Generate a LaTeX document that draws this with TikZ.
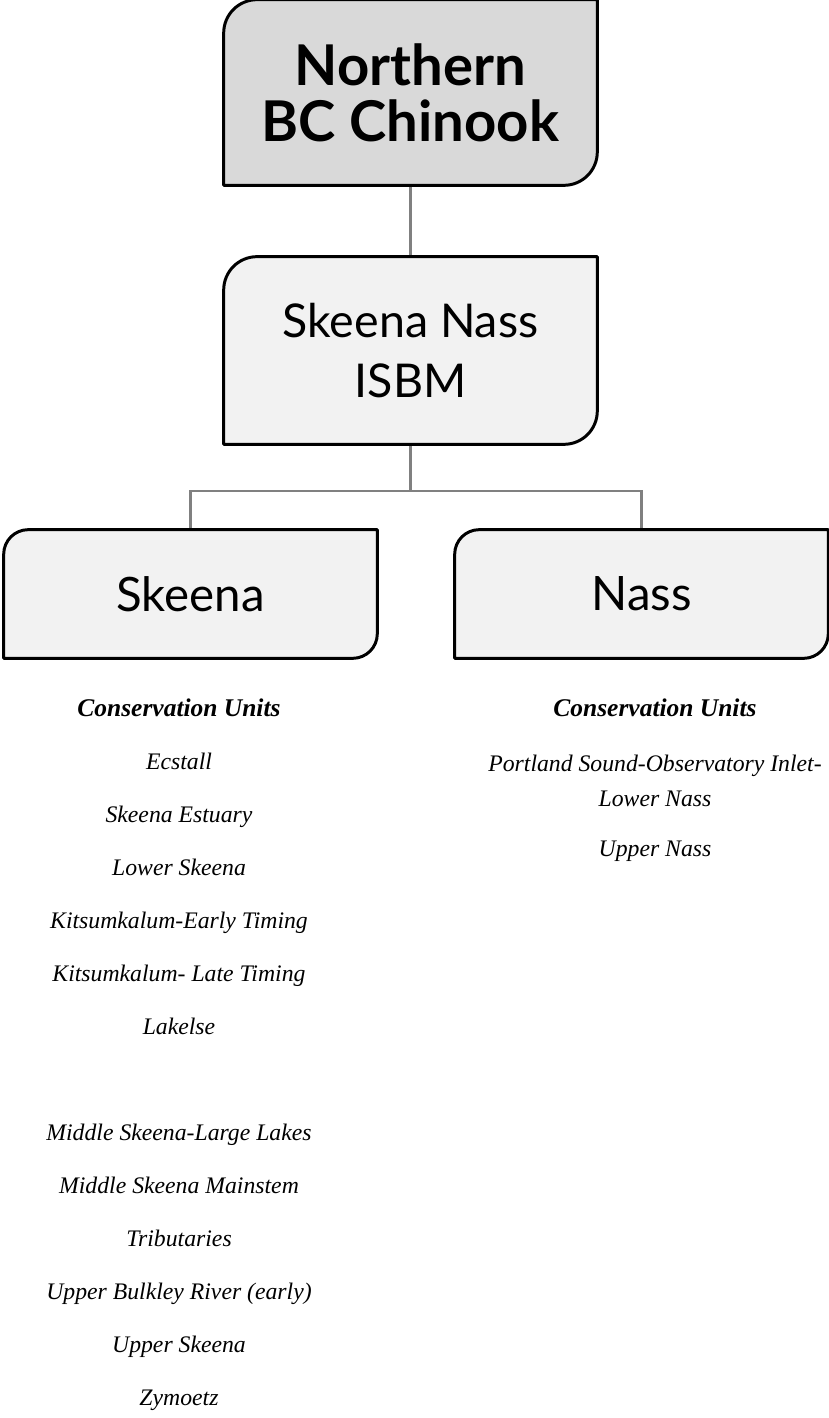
\documentclass[tikz,border=0pt]{standalone}
\usepackage{fontspec}
\setmainfont{Liberation Serif}
\newfontfamily\gillfont{Lato}
\usetikzlibrary{backgrounds}

% box with rounded top-left and bottom-right corners
\newcommand{\orgbox}[3]{%
  \filldraw[fill=#2, draw=black, line width=1.7pt, line join=round]
    (#1.north east) -- ([yshift=#3]#1.south east)
    arc[start angle=0, end angle=-90, radius=#3] -- (#1.south west)
    -- ([yshift=-#3]#1.north west)
    arc[start angle=180, end angle=90, radius=#3] -- cycle;}

\begin{document}
\begin{tikzpicture}[x=0.02cm, y=0.02cm,
    unit/.style={anchor=base, inner sep=0, font=\fontsize{13.5}{16}\selectfont\itshape},
    link/.style={draw=black!50, line width=1.3pt}]
  \useasboundingbox (0,0) rectangle (829,1418);
  \node[minimum width=7.46cm, minimum height=3.7cm, inner sep=0, align=center,
        font=\gillfont\bfseries\fontsize{32}{32}\selectfont] (nbc) at (410.5,1325.5) {Northern\\BC Chinook};
  \node[minimum width=7.46cm, minimum height=3.74cm, inner sep=0, align=center,
        font=\gillfont\fontsize{26.5}{34}\selectfont] (isbm) at (410.5,1067.5) {Skeena Nass\\ISBM};
  \node[minimum width=7.46cm, minimum height=2.56cm, inner sep=0,
        font=\gillfont\fontsize{27}{30}\selectfont] (skeena) at (190.5,824) {Skeena};
  \node[minimum width=7.46cm, minimum height=2.56cm, inner sep=0,
        font=\gillfont\fontsize{27}{30}\selectfont] (nass) at (641.5,824) {Nass};
  \coordinate (split) at (410.5,927);
  \begin{scope}[on background layer]
    \draw[link] (nbc.south) -- (isbm.north);
    \draw[link] (isbm.south) -- (split) -| (skeena.north);
    \draw[link] (split) -| (nass.north);
    \orgbox{nbc}{black!15}{19pt}
    \orgbox{isbm}{black!5}{19pt}
    \orgbox{skeena}{black!5}{14pt}
    \orgbox{nass}{black!5}{14pt}
  \end{scope}
  %===
  \node[unit, font=\fontsize{14.5}{16}\selectfont\itshape\bfseries] (skhead) at (179,701) {Conservation Units};
  \foreach \name [count=\i] in {Ecstall, Skeena Estuary, Lower Skeena, Kitsumkalum-Early Timing,
      Kitsumkalum- Late Timing, Lakelse}
    \node[unit] (sk\i) at (179,701-53*\i) {\name};
  \foreach \name [count=\i from 8] in {Middle Skeena-Large Lakes, Middle Skeena Mainstem,
      Tributaries, Upper Bulkley River (early), Upper Skeena, Zymoetz}
    \node[unit] (sk\i) at (179,701-53*\i) {\name};
  %===
  \node[unit, font=\fontsize{14.5}{16}\selectfont\itshape\bfseries] (nshead) at (655,701) {Conservation Units};
  \node[unit] (ns1) at (655,646) {Portland Sound-Observatory Inlet-};
  \node[unit] (ns2) at (655,611) {Lower Nass};
  \node[unit] (ns3) at (655,561) {Upper Nass};
\end{tikzpicture}
\end{document}
